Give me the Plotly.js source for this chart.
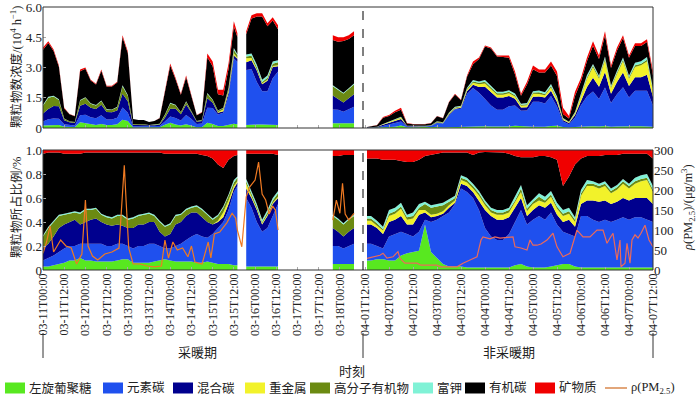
<!DOCTYPE html>
<html><head><meta charset="utf-8">
<script src="https://cdn.plot.ly/plotly-3.0.1.min.js"></script>
<style>html,body{margin:0;padding:0;background:#fff}</style>
</head><body><div id="chart" style="width:700px;height:396px"></div>
<script>
// ---------- DATA ----------
const names = ['左旋葡聚糖','元素碳','混合碳','重金属','高分子有机物','富钾','有机碳','矿物质'];
const colors = ['#58e820','#1f50ee','#00008e','#f2f22a','#6b8a12','#80f2d6','#000000','#f00000'];

// heating period: hours after 03-11 00:00 (three measured segments)
const hours1 = [0,3,6,9,12,15,18,21,24,27,30,33,36,39,42,45,48,51,54,57,60,63,66,69,72,75,78,81,84,87,90,93,96,99,102,105,108,110,
  115,118,121,124,127,130,133,
  164,167,170,173,176];
const total1 = [4.0,4.3,3.9,3.1,1.0,0.7,0.6,2.9,3.0,2.4,2.2,2.9,2.1,2.1,2.3,4.6,3.8,0.45,0.4,0.4,0.3,0.35,0.5,1.8,3.2,2.5,1.7,2.6,1.6,0.65,0.8,3.7,3.3,1.9,1.9,3.2,5.3,4.7,
  4.8,5.6,5.7,5.7,5.2,5.5,5.1,
  4.6,4.5,4.5,4.6,4.8];
const levo1 = [.03,.03,.04,.05,.06,.08,.08,.10,.08,.08,.07,.07,.07,.07,.08,.09,.09,.06,.06,.06,.06,.07,.08,.09,.08,.07,.07,.07,.07,.06,.06,.07,.06,.05,.05,.05,.04,.04,
  .03,.03,.03,.03,.03,.03,.03,
  .05,.05,.05,.05,.05];
const ec1 = [.05,.07,.08,.10,.12,.12,.12,.12,.14,.14,.15,.15,.13,.13,.14,.13,.11,.12,.14,.14,.16,.15,.12,.09,.10,.13,.15,.18,.21,.24,.22,.20,.24,.30,.35,.45,.61,.66,
  .57,.49,.37,.29,.32,.42,.52,
  .15,.15,.13,.15,.17];
const mixed1 = [.10,.12,.16,.20,.20,.20,.22,.16,.18,.20,.21,.18,.18,.17,.16,.15,.15,.17,.18,.18,.18,.18,.12,.10,.12,.18,.18,.20,.20,.18,.16,.13,.08,.05,.04,.05,.03,.03,
  .08,.08,.10,.06,.10,.10,.05,
  .15,.12,.10,.12,.13];
const metal1 = [0,0,0,0,0,0,0,0,0,0,0,0,0,0,0,0,0,0,0,0,0,0,0,0,0,0,0,0,0,0,0,0,0,.01,.04,.03,.02,.01,
  .04,.02,.01,.01,.01,.01,.01,
  0,0,0,0,0];
const hmoc1 = [.10,.13,.12,.10,.08,.07,.06,.09,.10,.08,.08,.06,.06,.06,.07,.08,.07,.08,.07,.08,.07,.05,.08,.08,.08,.07,.06,.05,.04,.05,.06,.06,.04,.04,.04,.04,.03,.03,
  .02,.02,.02,.01,.02,.02,.03,
  .10,.10,.10,.10,.10];
const kRich1 = [.01,.01,.01,.01,.01,.01,.01,.01,.01,.01,.01,.01,.01,.01,.01,.01,.01,.01,.01,.01,.01,.01,.01,.01,.01,.01,.01,.01,.01,.01,.01,.01,.01,.01,.01,.01,.02,.01,
  .02,.02,.02,.02,.02,.02,.02,
  .01,.01,.01,.01,.01];
const oc1 = [.68,.62,.57,.52,.50,.49,.48,.49,.47,.47,.46,.51,.53,.54,.52,.52,.55,.54,.52,.51,.50,.52,.57,.60,.58,.51,.50,.46,.44,.43,.45,.48,.50,.42,.32,.29,.20,.18,
  .21,.31,.42,.55,.47,.37,.30,
  .49,.52,.57,.53,.50];
const mineral1 = [.03,.02,.02,.02,.03,.03,.03,.03,.02,.02,.02,.02,.02,.02,.02,.02,.02,.02,.02,.02,.02,.02,.02,.03,.03,.03,.03,.03,.03,.03,.04,.05,.07,.12,.15,.08,.05,.04,
  .03,.03,.03,.03,.03,.03,.04,
  .05,.05,.04,.04,.04];

// non-heating period: hours after 04-01 12:00
const hours2 = [1,3,6,9,12,15,18,21,24,27,30,33,36,39,42,45,48,51,54,57,60,63,66,69,72,75,78,81,84,87,90,93,96,99,102,105,108,111,114,117,120,123,126,129,132,135,138,141,144];
const total2 = [0.05,0.08,0.15,0.55,0.65,0.85,1.0,0.25,0.2,0.2,0.2,0.25,0.6,0.5,1.3,1.7,1.4,2.6,3.3,3.5,4.1,4.0,3.6,3.6,3.6,2.8,1.7,2.3,3.1,2.9,2.9,3.3,2.8,1.0,0.6,1.8,2.5,3.5,4.3,3.6,4.8,3.1,4.0,4.6,3.6,4.2,4.2,4.4,2.8];
const levo2 = [.08,.08,.09,.09,.08,.08,.12,.14,.15,.16,.38,.15,.10,.05,.03,.03,.03,.02,.02,.02,.02,.02,.02,.02,.02,.04,.05,.03,.02,.02,.02,.03,.04,.05,.05,.03,.02,.02,.02,.02,.02,.02,.02,.02,.02,.02,.02,.02,.02];
const ec2 = [.14,.14,.11,.09,.20,.22,.20,.16,.13,.16,.04,.25,.32,.40,.45,.52,.65,.63,.58,.48,.33,.26,.23,.23,.28,.36,.45,.35,.40,.43,.40,.45,.34,.27,.25,.25,.43,.43,.40,.38,.40,.38,.40,.42,.40,.42,.42,.40,.38];
const mixed2 = [.16,.16,.15,.12,.12,.12,.13,.08,.10,.14,.06,.04,.03,.02,.04,.01,.04,.05,.05,.08,.15,.17,.17,.17,.14,.12,.10,.07,.08,.09,.10,.08,.08,.08,.12,.08,.10,.13,.16,.17,.16,.15,.15,.16,.16,.16,.16,.18,.15];
const metal2 = [.03,.03,.02,.03,.05,.05,.06,.04,.05,.04,.02,.02,.02,.02,.02,.02,.03,.03,.03,.04,.04,.03,.04,.04,.04,.04,.05,.04,.05,.04,.04,.05,.05,.05,.05,.04,.07,.12,.12,.11,.12,.09,.10,.12,.10,.12,.14,.15,.10];
const hmoc2 = [.02,.02,.02,.01,.02,.02,.02,.02,.02,.02,.05,.06,.06,.05,.03,.02,.02,.02,.02,.02,.02,.02,.02,.02,.02,.02,.03,.02,.02,.03,.02,.02,.02,.02,.02,.02,.02,.02,.02,.02,.02,.02,.02,.02,.02,.02,.02,.02,.02];
const kRich2 = [.02,.02,.02,.02,.03,.03,.03,.02,.03,.03,.02,.02,.02,.02,.02,.02,.02,.02,.02,.02,.02,.02,.02,.02,.02,.03,.03,.03,.02,.03,.03,.03,.03,.03,.03,.02,.03,.03,.02,.02,.02,.02,.02,.02,.02,.03,.03,.03,.03];
const oc2 = [.48,.48,.52,.56,.42,.40,.35,.44,.42,.37,.38,.42,.42,.42,.39,.36,.19,.21,.24,.32,.405,.465,.485,.48,.45,.34,.23,.40,.35,.31,.34,.28,.36,.20,.26,.44,.26,.20,.21,.23,.22,.28,.25,.21,.25,.20,.18,.17,.23];
const mineral2 = [.07,.07,.07,.08,.08,.08,.09,.10,.10,.08,.05,.04,.03,.02,.02,.02,.02,.02,.04,.02,.015,.015,.015,.02,.03,.05,.06,.06,.06,.05,.05,.06,.08,.30,.22,.12,.07,.05,.05,.05,.04,.04,.04,.03,.03,.03,.03,.03,.07];

// PM2.5 (ug/m3)
const pmHours1 = [0,2,4,6,8,10,13,16,19,22,24,25.5,28,31,35,39,43,46,47,48.5,51,55,59,63,67,69,71,73.5,76,79,82,84,86,90,93.5,95,97,100,104,107,109,110,112.5,115,117,120,122,124,126,128,130,131.5,133,
  164,166,168,169.5,171,173,176];
const pm1 = [42,70,110,45,60,75,60,55,15,40,175,60,35,25,40,45,55,262,175,55,15,15,10,8,10,75,30,70,50,55,33,60,20,15,70,30,90,95,118,142,130,100,58,183,208,225,270,190,175,140,160,150,100,
  125,175,142,217,140,125,142];
const pmHours2 = [1,4,7.5,9,11,14,16.5,17.5,20,26,28,36,38,46,49,52.5,56,58,59,62.5,65,67.5,74,75,78,81,82.5,84,86,88,91,94,96,99,102.5,106,109,112.5,116,119,121,122.5,124,126,127.5,128,130,131,132.5,133.5,135,136.5,138,140,142,144];
const pm2 = [29,33,37,42,30,33,46,29,17,17,12,12,8,8,17,25,33,75,83,78,83,80,83,58,55,50,75,62,62,65,75,92,58,33,42,100,83,83,100,100,67,80,92,25,75,8,17,67,17,75,88,80,92,112,75,58];

const tickLabels1 = ['03-11T00:00','03-11T12:00','03-12T00:00','03-12T12:00','03-13T00:00','03-13T12:00','03-14T00:00','03-14T12:00','03-15T00:00','03-15T12:00','03-16T00:00','03-16T12:00','03-17T00:00','03-17T12:00','03-18T00:00'];
const tickLabels2 = ['04-01T12:00','04-02T00:00','04-02T12:00','04-03T00:00','04-03T12:00','04-04T00:00','04-04T12:00','04-05T00:00','04-05T12:00','04-06T00:00','04-06T12:00','04-07T00:00','04-07T12:00'];

// ---------- BUILD ----------
const YEAR = 2021;
function at(month, day, hour0, h) {
  const d = new Date(Date.UTC(YEAR, month - 1, day, hour0) + h * 3600000);
  return d.toISOString().slice(0, 16).replace('T', ' ');
}
const t1 = h => at(3, 11, 0, h);
const t2 = h => at(4, 1, 12, h);
const tv = lab => YEAR + '-' + lab.replace('T', ' ');

function splitIdx(hours, gap) {
  const segs = []; let cur = [0];
  for (let i = 1; i < hours.length; i++) {
    if (hours[i] - hours[i - 1] > gap) { segs.push(cur); cur = []; }
    cur.push(i);
  }
  segs.push(cur); return segs;
}

const comps1 = [levo1, ec1, mixed1, metal1, hmoc1, kRich1, oc1, mineral1];
const comps2 = [levo2, ec2, mixed2, metal2, hmoc2, kRich2, oc2, mineral2];
const traces = [];
[[hours1, total1, comps1, t1, 'x', 'x3'], [hours2, total2, comps2, t2, 'x2', 'x4']].forEach(([hrs, tot, comps, tf, xTop, xBot], p) => {
  splitIdx(hrs, 4).forEach((seg, s) => {
    const x = seg.map(i => tf(hrs[i]));
    comps.forEach((arr, k) => {
      traces.push({
        type: 'scatter', mode: 'lines', x: x, y: seg.map(i => tot[i] * arr[i]),
        xaxis: xTop, yaxis: 'y', stackgroup: 'top' + p + '_' + s,
        line: {width: 0, color: colors[k]}, fillcolor: colors[k],
        showlegend: false, hoverinfo: 'skip'
      });
      traces.push({
        type: 'scatter', mode: 'lines', x: x, y: seg.map(i => arr[i]),
        xaxis: xBot, yaxis: 'y2', stackgroup: 'bot' + p + '_' + s,
        line: {width: 0, color: colors[k]}, fillcolor: colors[k],
        name: names[k], showlegend: false, hoverinfo: 'skip'
      });
    });
  });
});
// PM2.5 lines
const PM1C = '#f07a22', PM2C = '#ec6a5a', PMLEG = '#d9894e';
splitIdx(pmHours1, 10).forEach(seg => {
  traces.push({type: 'scatter', mode: 'lines', x: seg.map(i => t1(pmHours1[i])), y: seg.map(i => pm1[i]),
    xaxis: 'x3', yaxis: 'y3', line: {color: PM1C, width: 1.2}, showlegend: false, hoverinfo: 'skip'});
});
traces.push({type: 'scatter', mode: 'lines', x: pmHours2.map(t2), y: pm2,
  xaxis: 'x4', yaxis: 'y3', line: {color: PM2C, width: 1.2}, showlegend: false, hoverinfo: 'skip'});

// ---------- LAYOUT ----------
const FONT = 'Liberation Serif, Noto Sans CJK SC, serif';
const L = 43, R = 653, T = 7, B = 270, W = 700, H = 396;
const px = v => (v - L) / (R - L);
const py = v => (B - v) / (B - T);
const D = px(363);
const topDom = [py(128), 1], botDom = [0, py(150)];
const p1Range = [t1(0), t1((363 - 43) / 1.767)];
const p2Range = [t2(-1), t2(144)];

const xBase = {type: 'date', showgrid: false, zeroline: false, showline: false, automargin: false,
  ticklabeloverflow: 'allow',
  ticks: 'inside', ticklen: 3, tickcolor: '#aaaaaa', tickfont: {family: FONT, size: 12, color: '#222'}};
const yBase = {showgrid: false, zeroline: false, showline: false, automargin: false,
  ticklabeloverflow: 'allow',
  ticks: 'inside', ticklen: 3, tickcolor: '#aaaaaa', tickfont: {size: 13, color: '#222'}};

const shapes = [
  {type: 'rect', xref: 'paper', yref: 'paper', x0: 0, x1: 1, y0: topDom[0], y1: topDom[1], line: {color: '#333', width: 1}},
  {type: 'rect', xref: 'paper', yref: 'paper', x0: 0, x1: 1, y0: botDom[0], y1: botDom[1], line: {color: '#333', width: 1}},
  {type: 'line', xref: 'paper', yref: 'paper', x0: D, x1: D, y0: topDom[0], y1: topDom[1], line: {color: '#000', width: 1, dash: 'dash'}},
  {type: 'line', xref: 'paper', yref: 'paper', x0: D, x1: D, y0: botDom[0], y1: botDom[1], line: {color: '#000', width: 1, dash: 'dash'}},
  {type: 'line', xref: 'paper', yref: 'paper', x0: 0, x1: 0, y0: py(333), y1: py(358), line: {color: '#333', width: 1}},
  {type: 'line', xref: 'paper', yref: 'paper', x0: D, x1: D, y0: py(333), y1: py(358), line: {color: '#333', width: 1}},
  {type: 'line', xref: 'paper', yref: 'paper', x0: 1, x1: 1, y0: py(333), y1: py(358), line: {color: '#333', width: 1}}
];
const ann = (x, y, text, extra) => Object.assign({xref: 'paper', yref: 'paper', x: px(x), y: py(y), text: text,
  showarrow: false, xanchor: 'center', yanchor: 'middle', font: {size: 13}}, extra || {});
const annotations = [
  ann(197, 352, '采暖期'),
  ann(509, 352, '非采暖期'),
  ann(352, 371, '时刻'),
  // axis titles
  ann(16, 67, '颗粒物数浓度/(10<sup>4</sup> h<sup>−1</sup>)', {textangle: -90, font: {size: 12.5}}),
  ann(16, 208, '颗粒物所占比例/%', {textangle: -90, font: {size: 12.5}}),
  ann(688, 208, '<i>ρ</i>(PM<sub>2.5</sub>)/(μg/m<sup>3</sup>)', {textangle: -90, font: {size: 12.5}})
];
// legend row (drawn with shapes + text so it fits on one line like the reference)
const legSwatchX = [5, 103, 173, 245, 310, 413, 465, 535];
const LY = 388;
names.forEach((n, k) => {
  shapes.push({type: 'rect', xref: 'paper', yref: 'paper', x0: px(legSwatchX[k]), x1: px(legSwatchX[k] + 20),
    y0: py(LY + 5.5), y1: py(LY - 5.5), fillcolor: colors[k], line: {width: 0}});
  annotations.push(ann(legSwatchX[k] + 22, LY, n, {xanchor: 'left', font: {size: 12.5}}));
});
shapes.push({type: 'line', xref: 'paper', yref: 'paper', x0: px(605), x1: px(627), y0: py(LY), y1: py(LY), line: {color: PMLEG, width: 1.5}});
annotations.push(ann(629, LY, 'ρ(PM<sub>2.5</sub>)', {xanchor: 'left', font: {size: 12.5}}));

const layout = {
  width: W, height: H, margin: {l: L, r: W - R, t: T, b: H - B},
  paper_bgcolor: '#fff', plot_bgcolor: 'rgba(0,0,0,0)',
  font: {family: FONT, size: 12, color: '#222'},
  showlegend: false,
  xaxis: Object.assign({}, xBase, {domain: [0, D], range: p1Range, anchor: 'y',
    tickvals: tickLabels1.map(tv), showticklabels: false}),
  xaxis2: Object.assign({}, xBase, {domain: [D, 1], range: p2Range, anchor: 'y',
    tickvals: tickLabels2.map(tv), showticklabels: false}),
  xaxis3: Object.assign({}, xBase, {domain: [0, D], range: p1Range, anchor: 'y2',
    tickvals: tickLabels1.map(tv), ticktext: tickLabels1, tickangle: -90}),
  xaxis4: Object.assign({}, xBase, {domain: [D, 1], range: p2Range, anchor: 'y2',
    tickvals: tickLabels2.map(tv), ticktext: tickLabels2, tickangle: -90}),
  yaxis: Object.assign({}, yBase, {domain: topDom, range: [0, 6.005], anchor: 'x',
    tickvals: [0, 1.5, 3, 4.5, 6], ticktext: ['0', '1.5', '3.0', '4.5', '6.0']}),
  yaxis2: Object.assign({}, yBase, {domain: botDom, range: [0, 1.001], anchor: 'x3',
    tickvals: [0, .2, .4, .6, .8, 1], ticktext: ['0', '0.2', '0.4', '0.6', '0.8', '1.0']}),
  yaxis3: Object.assign({}, yBase, {overlaying: 'y2', side: 'right', anchor: 'x4', range: [0, 300.3],
    tickvals: [0, 50, 100, 150, 200, 250, 300]}),
  shapes: shapes,
  annotations: annotations
};
Plotly.newPlot('chart', traces, layout, {displayModeBar: false, staticPlot: true});
</script></body></html>
